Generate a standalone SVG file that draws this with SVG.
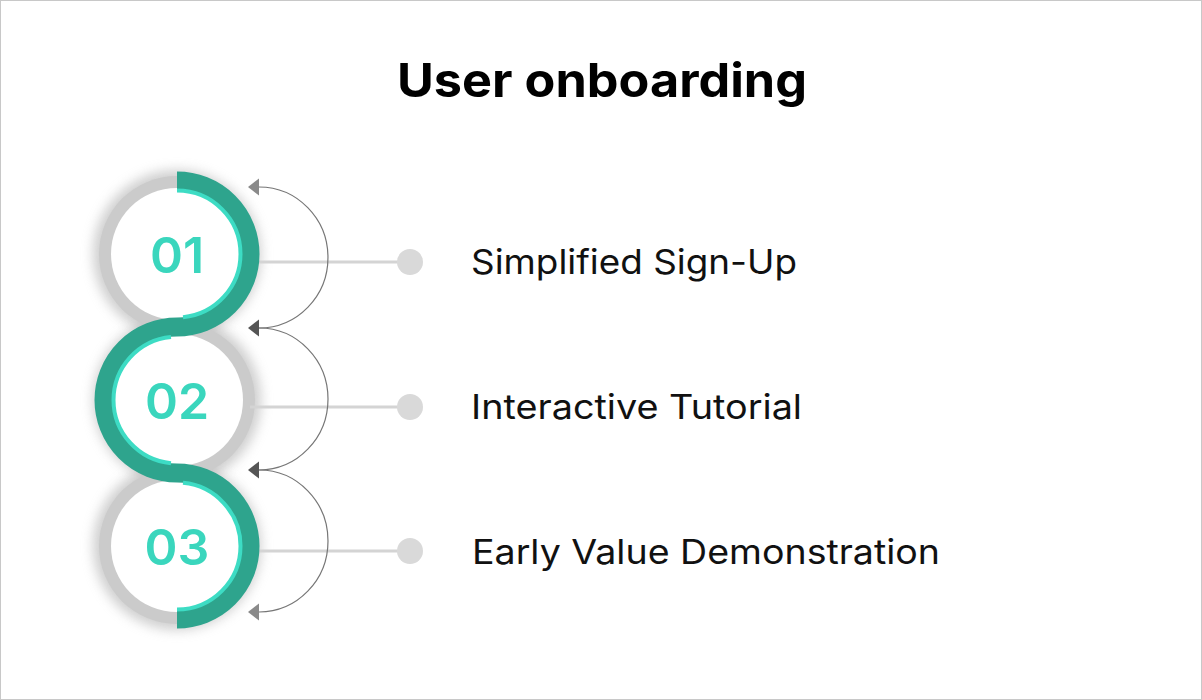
<svg xmlns="http://www.w3.org/2000/svg" width="1202" height="700" viewBox="0 0 1202 700">
<defs>
<style>
.title{font-family:Inter,Lato,"Liberation Sans",sans-serif;font-weight:700;font-size:47px;fill:#000}
.num{font-family:Inter,Lato,"Liberation Sans",sans-serif;font-weight:600;font-size:50px;fill:#3ad6bd}
.lbl{font-family:Inter,Lato,"Liberation Sans",sans-serif;font-weight:400;font-size:34px;fill:#111}
.ring{fill:#cbcbcb}
.halo{fill:#a8a8a8;opacity:.55;filter:url(#blur)}
.disc{fill:#fff}
.band{fill:none;stroke:#2ea48d;stroke-width:19}
.stripe{fill:none;stroke:#3ddcc4;stroke-width:4}
.hline{stroke:#d4d4d4;stroke-width:3}
.dot{fill:#d9d9d9}
.arc{fill:none;stroke:#767676;stroke-width:1.2}
</style>
<filter id="blur" x="-30%" y="-30%" width="160%" height="160%"><feGaussianBlur stdDeviation="6"/></filter>
</defs>
<rect x="0.5" y="0.5" width="1201" height="699" fill="#fff" stroke="#c8c8c8" stroke-width="1"/>
<text class="title" x="397" y="97" textLength="410" lengthAdjust="spacingAndGlyphs">User onboarding</text>

<g id="rings">
<circle class="halo" cx="177" cy="254" r="84"/>
<circle class="halo" cx="177" cy="400" r="84"/>
<circle class="halo" cx="177" cy="546" r="84"/>
<circle class="ring" cx="177" cy="254" r="78"/>
<circle class="ring" cx="177" cy="400" r="78"/>
<circle class="ring" cx="177" cy="546" r="78"/>
</g>

<g id="connectors">
<line class="hline" x1="250" y1="262" x2="410" y2="262"/>
<line class="hline" x1="250" y1="407" x2="410" y2="407"/>
<line class="hline" x1="250" y1="551" x2="410" y2="551"/>
<path class="arc" d="M259,187 A69,70.5 0 0 1 259,328"/>
<path class="arc" d="M259,328 A69,71 0 0 1 259,470"/>
<path class="arc" d="M259,470 A69,71 0 0 1 259,612"/>
<polygon points="248,187 259,178.5 259,195.5" fill="#8a8a8a"/>
<polygon points="248,328 259,319.5 259,336.5" fill="#555"/>
<polygon points="248,470 259,461.5 259,478.5" fill="#555"/>
<polygon points="248,612 259,603.5 259,620.5" fill="#8a8a8a"/>
</g>

<g id="node1">
<circle class="disc" cx="177" cy="254" r="66"/>
<text class="num" x="177" y="273" text-anchor="middle">01</text>
<circle class="dot" cx="410" cy="262" r="13"/>
<text class="lbl" x="471" y="274" textLength="326" lengthAdjust="spacingAndGlyphs">Simplified Sign-Up</text>
</g>
<g id="node2">
<circle class="disc" cx="177" cy="400" r="66"/>
<text class="num" x="177" y="419" text-anchor="middle">02</text>
<circle class="dot" cx="410" cy="407" r="13"/>
<text class="lbl" x="471" y="419" textLength="331" lengthAdjust="spacingAndGlyphs">Interactive Tutorial</text>
</g>
<g id="node3">
<circle class="disc" cx="177" cy="546" r="66"/>
<text class="num" x="177" y="565" text-anchor="middle">03</text>
<circle class="dot" cx="410" cy="551" r="13"/>
<text class="lbl" x="472" y="564" textLength="468" lengthAdjust="spacingAndGlyphs">Early Value Demonstration</text>
</g>

<g id="band">
<path class="band" d="M177,181 A73,73 0 0 1 177,327 A73,73 0 0 0 177,473 A73,73 0 0 1 177,619"/>
<path class="stripe" d="M177,190.5 A63.5,63.5 0 0 1 240.5,254 A63.5,63.5 0 0 1 183,317.2"/>
<path class="stripe" d="M171,337 A63.5,63.5 0 0 0 113.5,400 A63.5,63.5 0 0 0 171,463.2"/>
<path class="stripe" d="M183,482.8 A63.5,63.5 0 0 1 240.5,546 A63.5,63.5 0 0 1 177,609.5"/>
</g>
</svg>
